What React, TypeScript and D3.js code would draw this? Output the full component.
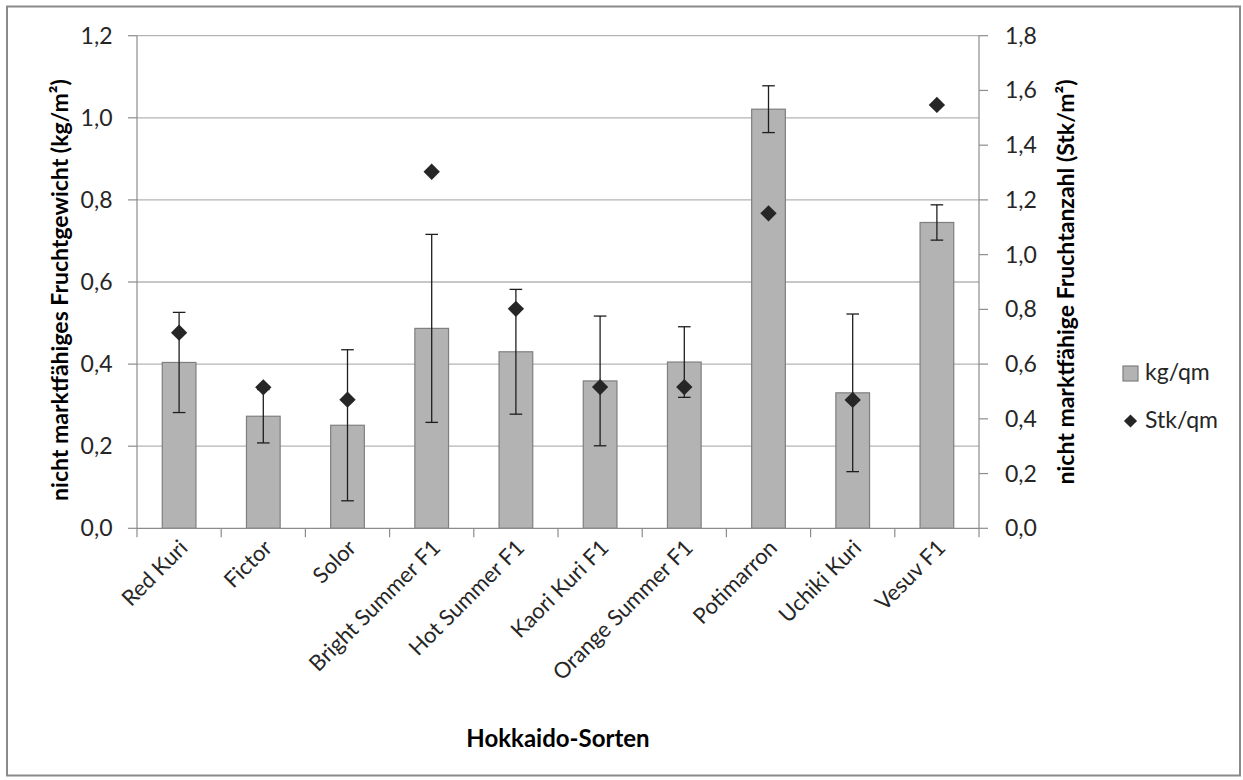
import React from "react";
import * as d3 from "d3";

const categories = [
  "Red Kuri",
  "Fictor",
  "Solor",
  "Bright Summer F1",
  "Hot Summer F1",
  "Kaori Kuri F1",
  "Orange Summer F1",
  "Potimarron",
  "Uchiki Kuri",
  "Vesuv F1",
];
const kgPerQm = [0.404, 0.273, 0.251, 0.487, 0.43, 0.359, 0.405, 1.021, 0.33, 0.745];
const kgErr = [0.122, 0.065, 0.184, 0.229, 0.152, 0.158, 0.086, 0.057, 0.192, 0.043];
const stkPerQm = [0.715, 0.515, 0.47, 1.303, 0.802, 0.516, 0.516, 1.151, 0.469, 1.547];
const leftTicks = [0, 0.2, 0.4, 0.6, 0.8, 1.0, 1.2];
const rightTicks = [0, 0.2, 0.4, 0.6, 0.8, 1.0, 1.2, 1.4, 1.6, 1.8];

const W = 1243;
const H = 780;
const FONT = "Lato, 'Open Sans', sans-serif";

export default function App() {
  const left = 137;
  const right = 979;
  const top = 35.7;
  const bottom = 528.3;

  const x = d3
    .scaleBand<string>()
    .domain(categories)
    .range([left, right])
    .paddingInner(0.6)
    .paddingOuter(0.3);
  const yL = d3.scaleLinear().domain([0, 1.2]).range([bottom, top]);
  const yR = d3.scaleLinear().domain([0, 1.8]).range([bottom, top]);
  const bw = x.bandwidth();
  const step = x.step();
  const fmt = (v: number) => v.toFixed(1).replace(".", ",");
  const diamond = d3.symbol().type(d3.symbolDiamond2).size(170)();

  const gridColor = "#b4b4b4";
  const axisColor = "#8c8c8c";
  const fs = 23;

  return (
    <svg
      width={W}
      height={H}
      style={{ position: "absolute", left: 0, top: 0, background: "#fff" }}
      fontFamily={FONT}
    >
      <rect x={7} y={6.5} width={1233} height={769} fill="#fff" stroke="#8a8a8a" strokeWidth={2} />

      {/* gridlines */}
      {leftTicks.slice(1).map((t) => (
        <line key={"g" + t} x1={left} x2={right} y1={yL(t)} y2={yL(t)} stroke={gridColor} strokeWidth={1.3} />
      ))}

      {/* bars */}
      {categories.map((c, i) => (
        <rect
          key={"b" + c}
          x={x(c)!}
          y={yL(kgPerQm[i])}
          width={bw}
          height={bottom - yL(kgPerQm[i])}
          fill="#b3b3b3"
          stroke="#7f7f7f"
          strokeWidth={1.2}
        />
      ))}

      {/* axes */}
      <line x1={left} x2={left} y1={top} y2={bottom} stroke={axisColor} strokeWidth={1.2} />
      <line x1={right} x2={right} y1={top} y2={bottom} stroke={axisColor} strokeWidth={1.2} />
      <line x1={left} x2={right} y1={bottom} y2={bottom} stroke={axisColor} strokeWidth={1.2} />
      {leftTicks.map((t) => (
        <g key={"lt" + t}>
          <line x1={left - 9} x2={left} y1={yL(t)} y2={yL(t)} stroke={axisColor} strokeWidth={1.2} />
          <text x={112.5} y={yL(t) + 8} textAnchor="end" fontSize={fs} fill="#262626">
            {fmt(t)}
          </text>
        </g>
      ))}
      {rightTicks.map((t) => (
        <g key={"rt" + t}>
          <line x1={right} x2={right + 9} y1={yR(t)} y2={yR(t)} stroke={axisColor} strokeWidth={1.2} />
          <text x={1005} y={yR(t) + 8} textAnchor="start" fontSize={fs} fill="#262626">
            {fmt(t)}
          </text>
        </g>
      ))}
      {d3.range(categories.length + 1).map((i) => (
        <line
          key={"xt" + i}
          x1={left + i * step}
          x2={left + i * step}
          y1={bottom}
          y2={bottom + 9}
          stroke={axisColor}
          strokeWidth={1.2}
        />
      ))}

      {/* error bars */}
      {categories.map((c, i) => {
        const cx = x(c)! + bw / 2;
        const y1 = yL(kgPerQm[i] + kgErr[i]);
        const y2 = yL(kgPerQm[i] - kgErr[i]);
        return (
          <g key={"e" + c} stroke="#1e1e1e" strokeWidth={1.3}>
            <line x1={cx} x2={cx} y1={y1} y2={y2} />
            <line x1={cx - 6.3} x2={cx + 6.3} y1={y1} y2={y1} />
            <line x1={cx - 6.3} x2={cx + 6.3} y1={y2} y2={y2} />
          </g>
        );
      })}

      {/* diamonds */}
      {categories.map((c, i) => (
        <path
          key={"d" + c}
          d={diamond!}
          transform={`translate(${x(c)! + bw / 2},${yR(stkPerQm[i])})`}
          fill="#262626"
        />
      ))}

      {/* category labels */}
      {categories.map((c) => (
        <text
          key={"cl" + c}
          textAnchor="end"
          fontSize={22}
          fill="#262626"
          transform={`translate(${x(c)! + bw / 2 + 10},${bottom + 21}) rotate(-45)`}
        >
          {c}
        </text>
      ))}

      {/* axis titles */}
      <text
        transform={`translate(68,${(top + bottom) / 2 + 8}) rotate(-90)`}
        textAnchor="middle"
        fontSize={fs}
        fontWeight="bold"
        fill="#000"
      >
        nicht marktfähiges Fruchtgewicht (kg/m²)
      </text>
      <text
        transform={`translate(1074,${(top + bottom) / 2}) rotate(-90)`}
        textAnchor="middle"
        fontSize={fs}
        fontWeight="bold"
        fill="#000"
      >
        nicht marktfähige Fruchtanzahl (Stk/m²)
      </text>
      <text x={(left + right) / 2} y={747} textAnchor="middle" fontSize={24} fontWeight="bold" fill="#000">
        Hokkaido-Sorten
      </text>

      {/* legend */}
      <rect x={1123} y={366} width={15} height={15} fill="#b3b3b3" stroke="#7f7f7f" strokeWidth={1.2} />
      <text x={1145} y={380} fontSize={fs} fill="#262626">
        kg/qm
      </text>
      <path d={d3.symbol().type(d3.symbolDiamond2).size(110)()!} transform="translate(1130.5,421)" fill="#262626" />
      <text x={1145} y={428} fontSize={fs} fill="#262626">
        Stk/qm
      </text>
    </svg>
  );
}
